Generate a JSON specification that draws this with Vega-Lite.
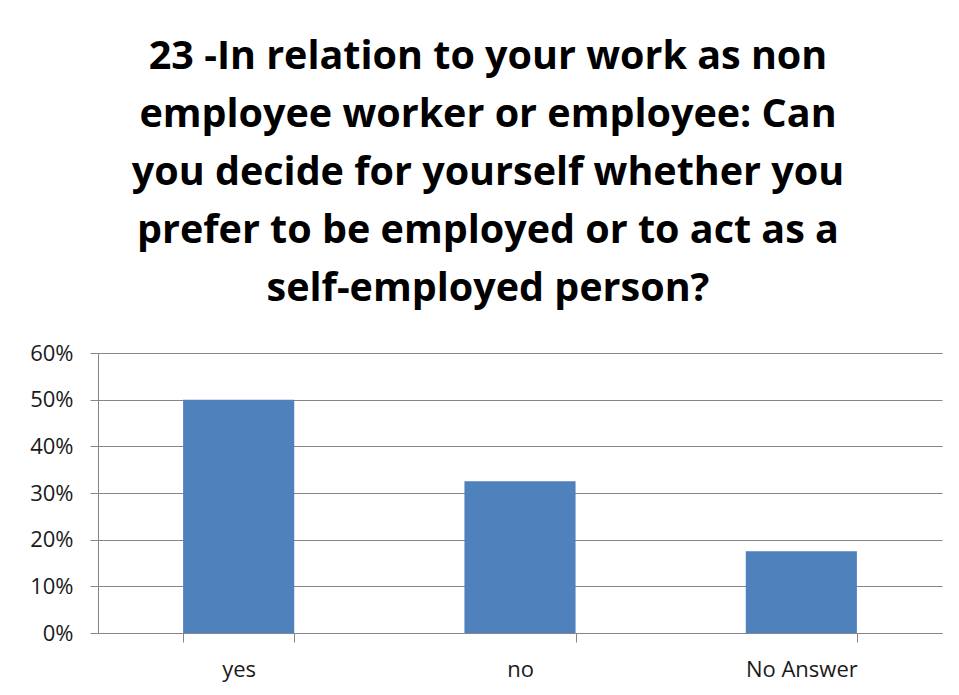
{
  "$schema": "https://vega.github.io/schema/vega-lite/v6.json",
  "autosize": {"type": "none"},
  "width": 844,
  "height": 280,
  "padding": {"left": 98, "top": 353, "right": 17, "bottom": 62},
  "background": "white",
  "title": {
    "text": ["23 -In relation to your work as non", "employee worker or employee: Can", "you decide for yourself whether you", "prefer to be employed or to act as a", "self-employed person?"],
    "font": "Open Sans",
    "fontSize": 39.5,
    "fontWeight": "bold",
    "color": "#000000",
    "lineHeight": 58,
    "anchor": "middle",
    "frame": "group",
    "dx": -32,
    "offset": 33
  },
  "data": {
    "values": [
      {"answer": "yes", "share": 0.5},
      {"answer": "no", "share": 0.325},
      {"answer": "No Answer", "share": 0.175}
    ]
  },
  "mark": {"type": "bar", "color": "#4F81BD"},
  "encoding": {
    "x": {
      "field": "answer",
      "type": "nominal",
      "sort": ["yes", "no", "No Answer"],
      "scale": {"paddingInner": 0.605, "paddingOuter": 0.3025},
      "axis": {
        "title": null,
        "labelAngle": 0,
        "tickBand": "extent",
        "tickSize": 9,
        "tickColor": "#868686",
        "domainColor": "#868686",
        "labelFont": "Open Sans",
        "labelFontSize": 22,
        "labelColor": "#1a1a1a",
        "labelPadding": 17,
        "grid": false
      }
    },
    "y": {
      "field": "share",
      "type": "quantitative",
      "scale": {"domain": [0, 0.6], "nice": false},
      "axis": {
        "title": null,
        "format": ".0%",
        "values": [0, 0.1, 0.2, 0.3, 0.4, 0.5, 0.6],
        "tickSize": 8,
        "tickColor": "#868686",
        "domainColor": "#868686",
        "gridColor": "#868686",
        "labelFont": "Open Sans",
        "labelFontSize": 22,
        "labelColor": "#1a1a1a",
        "labelPadding": 17
      }
    }
  },
  "config": {"view": {"stroke": null}}
}
